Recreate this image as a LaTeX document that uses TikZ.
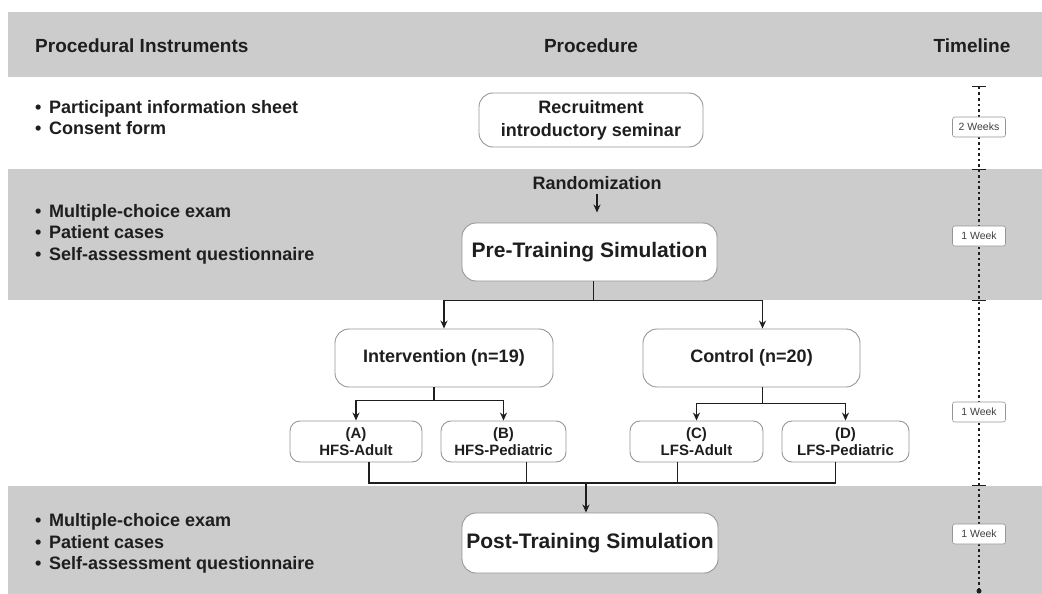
\documentclass[tikz,border=0pt]{standalone}
\usepackage{fontspec}
\setmainfont{Liberation Sans}
\usetikzlibrary{arrows.meta, positioning, calc}
\definecolor{bandgray}{RGB}{204,204,204}
\definecolor{boxline}{RGB}{150,150,150}
\definecolor{inkgray}{RGB}{30,30,30}
\newcommand{\bulletitem}{\makebox[14pt][l]{\textbullet}}

\begin{document}
\begin{tikzpicture}[x=1pt,y=-1pt,
    box/.style={draw=boxline,line width=0.9pt,fill=white,rounded corners=14pt,align=center,inner sep=0pt,text=inkgray,font=\fontsize{18}{23}\selectfont\bfseries},
    bigbox/.style={box,font=\fontsize{21}{25}\selectfont\bfseries},
    subbox/.style={box,rounded corners=10pt,font=\fontsize{15}{17}\selectfont\bfseries},
    weekbox/.style={draw=boxline,line width=0.6pt,fill=white,rounded corners=2.5pt,minimum width=53pt,minimum height=20pt,inner sep=0pt,text=black!75,font=\fontsize{10.5}{12}\selectfont},
    head/.style={inner sep=0pt,text=inkgray,font=\fontsize{19}{22}\selectfont\bfseries},
    instr/.style={anchor=west,align=left,inner sep=0pt,text=inkgray,font=\fontsize{18}{21.5}\selectfont\bfseries},
    link/.style={line width=1.6pt,draw=inkgray},
    arr/.style={link,-{Stealth[length=8pt,width=7pt]}}]

    \useasboundingbox (0,0) rectangle (1042,594);
    % bands
    \fill[bandgray] (8,12) rectangle (1042,77);
    \fill[bandgray] (8,169) rectangle (1042,300);
    \fill[bandgray] (8,486) rectangle (1042,594);

    % headings
    \node[head,anchor=west] (hinstr) at (35,46) {Procedural Instruments};
    \node[head] (hproc) at (591,46) {Procedure};
    \node[head] (htime) at (972,46) {Timeline};

    % instruments
    \node[instr] (list1) at (35,117.5) {\bulletitem Participant information sheet\\\bulletitem Consent form};
    \node[instr] (list2) at (35,234) {\bulletitem Multiple-choice exam\\\bulletitem Patient cases\\\bulletitem Self-assessment questionnaire};
    \node[instr] (list3) at (35,543.5) {\bulletitem Multiple-choice exam\\\bulletitem Patient cases\\\bulletitem Self-assessment questionnaire};

    % procedure
    \node[box,minimum width=224pt,minimum height=54pt] (recruit) at (591,120) {Recruitment\\introductory seminar};
    \node[head,font=\fontsize{18}{22}\selectfont\bfseries] (rand) at (597,183) {Randomization};
    \node[bigbox,minimum width=255pt,minimum height=58pt] (pre) at (589.5,252) {Pre-Training Simulation};
    \node[box,minimum width=218pt,minimum height=58pt] (int) at (444,358) {Intervention (n=19)};
    \node[box,minimum width=217pt,minimum height=58pt] (ctl) at (751.5,358) {Control (n=20)};
    \node[subbox,minimum width=132pt,minimum height=41pt] (hfsA) at (356,441.5) {(A)\\HFS-Adult};
    \node[subbox,minimum width=125pt,minimum height=41pt] (hfsB) at (503.5,441.5) {(B)\\HFS-Pediatric};
    \node[subbox,minimum width=133pt,minimum height=41pt] (lfsC) at (696.5,441.5) {(C)\\LFS-Adult};
    \node[subbox,minimum width=127pt,minimum height=41pt] (lfsD) at (845.5,441.5) {(D)\\LFS-Pediatric};
    \node[bigbox,minimum width=256pt,minimum height=60pt] (post) at (590,543) {Post-Training Simulation};
    \coordinate (join) at (586,483);

    \draw[arr,shorten <=4pt,shorten >=10pt] (rand.south) -- (rand.south |- pre.north);
    \draw[arr] ($(pre.south)+(4,0)$) -- ++(0,19) -| (int.north);
    \draw[arr] ($(pre.south)+(4,0)$) -- ++(0,19) -| ($(ctl.north)+(11,0)$);
    \draw[arr] ($(int.south)+(-10,0)$) -- ++(0,13) -| (hfsA.north);
    \draw[arr] ($(int.south)+(-10,0)$) -- ++(0,13) -| (hfsB.north);
    \draw[arr] ($(ctl.south)+(11,0)$) -- ++(0,16) -| (lfsC.north);
    \draw[arr] ($(ctl.south)+(11,0)$) -- ++(0,16) -| (lfsD.north);
    \draw[link] ($(hfsA.south)+(13,0)$) |- (join);
    \draw[link] ($(hfsB.south)+(23,0)$) |- (join);
    \draw[link] ($(lfsC.south)+(-19,0)$) |- (join);
    \draw[link] ($(lfsD.south)+(-10,0)$) |- (join);
    \draw[arr] (join) -- (join |- post.north);

    % timeline
    \coordinate (ttop) at (979,87);
    \coordinate (tend) at (979,591);
    \draw[inkgray,line width=1.5pt,dash pattern=on 2.5pt off 3pt] (ttop) -- (tend);
    \foreach \y in {87,169,300,485}
        \draw[inkgray,line width=1pt] (972,\y) -- (986,\y);
    \fill[inkgray] (tend) circle (2.5pt);
    \node[weekbox] (wk1) at (979,127) {2 Weeks};
    \node[weekbox] (wk2) at (979,236) {1 Week};
    \node[weekbox] (wk3) at (979,412) {1 Week};
    \node[weekbox] (wk4) at (979,534) {1 Week};
\end{tikzpicture}
\end{document}
